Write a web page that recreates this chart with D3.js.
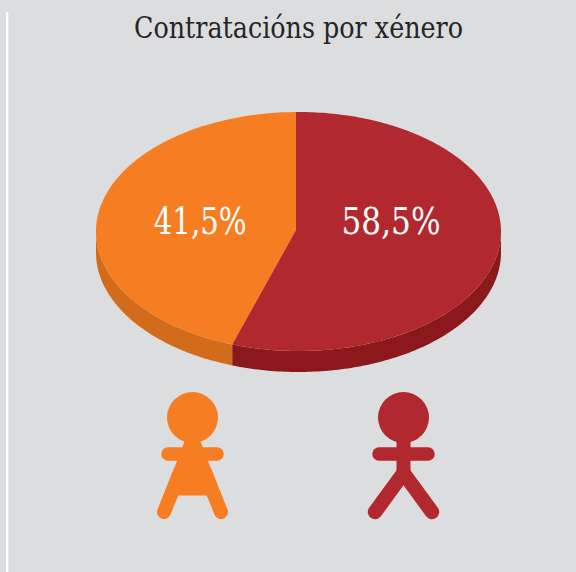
<!DOCTYPE html>
<html><head><meta charset="utf-8">
<script src="https://cdn.jsdelivr.net/npm/d3@7"></script>
<style>html,body{margin:0;padding:0;background:#dcdddf;overflow:hidden}svg{display:block}</style>
</head><body><svg id="c" width="576" height="572"></svg>
<script>
const chartTitle = "Contratacións por xénero";
const categories = ["Mulleres", "Homes"];
const shareLabels = ["41,5%", "58,5%"];
// share of the circle each slice occupies as drawn in the picture
const drawnShares = [44.5, 55.5];
const topColors = ["#f77d22", "#b1292f"];
const sideColors = ["#d26b1b", "#8b191c"];

const W = 576, H = 572;
const svg = d3.select("#c");
svg.append("rect").attr("width", W).attr("height", H).attr("fill", "#dcdddf");
svg.append("rect").attr("x", 6).attr("y", 12).attr("width", 2.3).attr("height", H - 12).attr("fill", "#ffffff");

svg.append("text").attr("x", 134).attr("y", 38)
  .attr("font-family", "'DejaVu Serif'").attr("font-size", 29).attr("fill", "#252527")
  .attr("textLength", 329).attr("lengthAdjust", "spacingAndGlyphs").text(chartTitle);

const cx = 298.5, cy = 231.5, rx = 202.5, ry = 119.5, depth = 21;
const apex = [296, 230];
const start = -0.0124;
const pie = d3.pie().sort(null).value(d => d.v).startAngle(start - 2 * Math.PI * drawnShares[0] / 100).endAngle(start + 2 * Math.PI * drawnShares[1] / 100);
const slices = pie(categories.map((c, i) => ({c, v: drawnShares[i], i})));
const X = a => cx + rx * Math.sin(a), Y = a => cy - ry * Math.cos(a);
const samples = (a0, a1) => { const n = Math.max(2, Math.ceil(Math.abs(a1 - a0) * 60)); return d3.range(n + 1).map(k => a0 + (a1 - a0) * k / n); };

// front wall: the part of each slice lying on the lower half of the ellipse
const wall = d3.area().x(X).y0(Y).y1(a => Y(a) + depth);
slices.forEach((s, i) => {
  const r = i === 0 ? [s.startAngle, -Math.PI / 2] : [Math.PI / 2, s.endAngle];
  svg.append("path").attr("d", wall(samples(r[0], r[1]))).attr("fill", sideColors[s.data.i]);
});
// top face
const line = d3.line();
slices.forEach(s => {
  const pts = [apex, ...samples(s.startAngle, s.endAngle).map(a => [X(a), Y(a)])];
  svg.append("path").attr("d", line(pts) + "Z").attr("fill", topColors[s.data.i]);
});

const labelLeft = [153.7, 341.5];
shareLabels.forEach((t, i) => svg.append("text").attr("x", labelLeft[i]).attr("y", 233.5)
  .attr("font-family", "'DejaVu Serif'").attr("font-size", 38).attr("fill", "#fff")
  .attr("textLength", i ? 99 : 93).attr("lengthAdjust", "spacingAndGlyphs").text(t));

// pictograms
function limb(g, x1, y1, x2, y2, w, col) {
  g.append("line").attr("x1", x1).attr("y1", y1).attr("x2", x2).attr("y2", y2)
    .attr("stroke", col).attr("stroke-width", w).attr("stroke-linecap", "round");
}
const fem = svg.append("g"), fc = topColors[0];
fem.append("circle").attr("cx", 192.5).attr("cy", 417.5).attr("r", 25.5).attr("fill", fc);
limb(fem, 168, 454, 217, 454, 13.5, fc);
fem.append("path").attr("fill", fc).attr("d", line([[185,440],[200,440],[208,461],[227,510],[216,516],[207,495.5],[178,495.5],[169,516],[158,510],[177,461]]) + "Z");
limb(fem, 164, 512, 180, 472, 14, fc);
limb(fem, 221, 512, 205, 472, 14, fc);

const mal = svg.append("g"), mc = topColors[1];
mal.append("circle").attr("cx", 403.5).attr("cy", 417.5).attr("r", 25.5).attr("fill", mc);
limb(mal, 379, 454, 428, 454, 13.5, mc);
mal.append("rect").attr("x", 396.5).attr("y", 440).attr("width", 14).attr("height", 36).attr("fill", mc);
limb(mal, 375, 512, 403.5, 473, 14.5, mc);
limb(mal, 432, 512, 403.5, 473, 14.5, mc);
</script></body></html>
